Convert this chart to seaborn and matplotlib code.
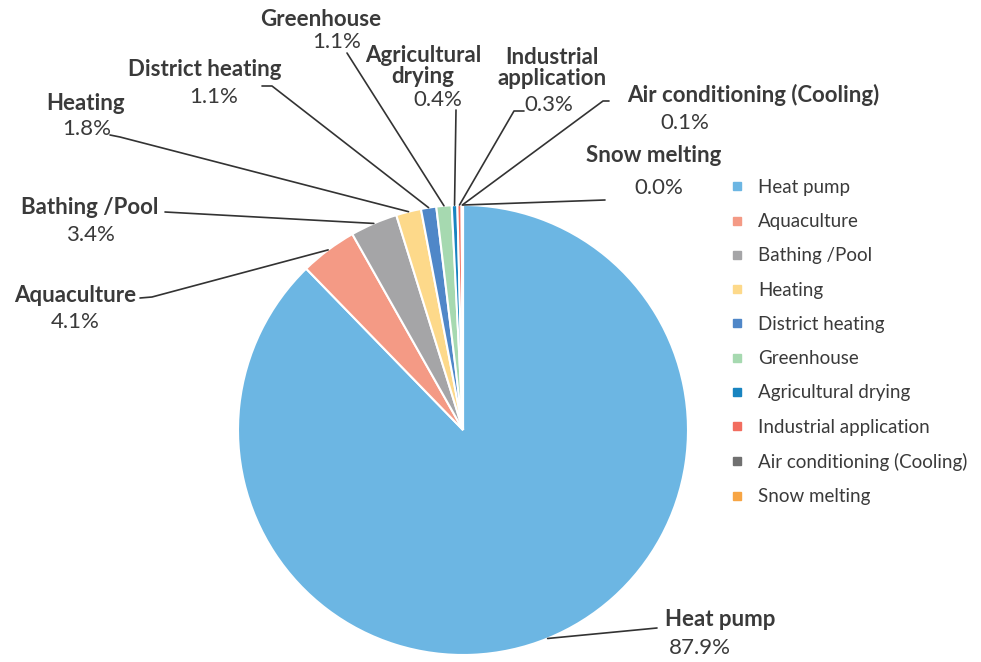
import numpy as np
import matplotlib
matplotlib.use("Agg")
import matplotlib.pyplot as plt
from matplotlib.lines import Line2D
import seaborn as sns

categories = ["Heat pump", "Aquaculture", "Bathing /Pool", "Heating", "District heating",
              "Greenhouse", "Agricultural drying", "Industrial application",
              "Air conditioning (Cooling)", "Snow melting"]
shares = [87.9, 4.1, 3.4, 1.8, 1.1, 1.1, 0.4, 0.3, 0.1, 0.0]
colors = ["#6cb6e3", "#f49a85", "#a5a5a7", "#fdd98a", "#4f87c8",
          "#a6d9b0", "#1884c0", "#f26d5f", "#707070", "#f7a544"]
# names as printed next to the pie (some wrap)
outer_names = ["Heat pump", "Aquaculture", "Bathing /Pool", "Heating", "District heating",
               "Greenhouse", "Agricultural\ndrying", "Industrial\napplication",
               "Air conditioning (Cooling)", "Snow melting"]

# layout (pixels from top-left of the 981x662 image)
W, H = 981, 662
CX, CY, R = 463, 430, 225
name_pos = [(720, 620), (75, 295), (90, 208), (86, 104), (205, 70),
            (321, 19), (423, 66), (552, 68), (753, 95), (654, 155)]
pct_pos = [(700, 648), (75, 322), (90, 235), (87, 129), (214, 97),
           (337, 42), (438, 100), (549, 105), (685, 123), (659, 188)]
leader = [[(657, 628)], [(140, 298), (152, 297)], [(165, 212)], [(110, 135), (120, 137)],
          [(262, 86), (272, 86)], [(347, 53)], [(456, 110)], [(524, 111), (514, 111)],
          [(609, 101), (603, 101)], [(605, 200)]]

TEXT = "#3a3a3a"

sns.set_theme(style="white")
plt.rcParams["font.family"] = ["Lato", "DejaVu Sans"]


def px(p):
    return ((p[0] - CX) / R, (CY - p[1]) / R)


fig = plt.figure(figsize=(W / 100, H / 100), dpi=100)
ax = fig.add_axes([(CX - R) / W, (H - CY - R) / H, 2 * R / W, 2 * R / H])

wedges, _ = ax.pie(shares, colors=colors, startangle=90, counterclock=False, radius=1,
                   wedgeprops=dict(edgecolor="white", linewidth=1.5))
ax.set_xlim(-1, 1)
ax.set_ylim(-1, 1)
ax.set_aspect("equal")
ax.axis("off")

for i, w in enumerate(wedges):
    ang = np.deg2rad((w.theta1 + w.theta2) / 2)
    edge = (np.cos(ang), np.sin(ang))
    pts = [px(p) for p in leader[i]] + [edge]
    ax.plot([p[0] for p in pts], [p[1] for p in pts], color="#333333", lw=1.2, clip_on=False)

    nx, ny = px(name_pos[i])
    ax.text(nx, ny, outer_names[i], ha="center", va="center", fontsize=16,
            fontweight="bold", color=TEXT, linespacing=0.95, clip_on=False)
    tx, ty = px(pct_pos[i])
    ax.text(tx, ty, f"{shares[i]:.1f}%", ha="center", va="center", fontsize=16,
            color=TEXT, clip_on=False)

handles = [Line2D([], [], marker="s", linestyle="", markersize=6, color=c) for c in colors]
fig.legend(handles, categories, loc="upper left", bbox_to_anchor=(711 / W, 1 - 162 / H),
           frameon=False, fontsize=13.5, labelspacing=0.92, handletextpad=0.6,
           handlelength=1.0, labelcolor=TEXT)

fig.savefig("out.png", dpi=100)
